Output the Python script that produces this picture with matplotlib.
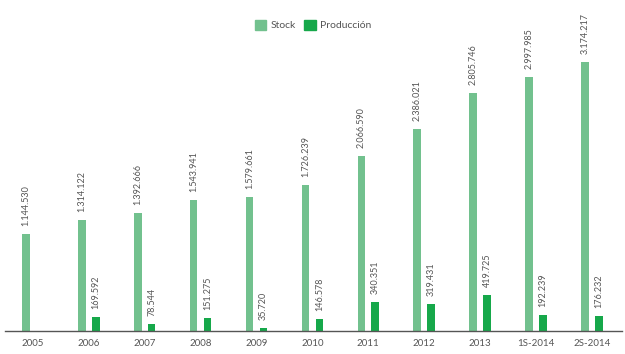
import matplotlib
matplotlib.use("Agg")
import matplotlib.pyplot as plt
from matplotlib.patches import Patch

categories = ["2005", "2006", "2007", "2008", "2009", "2010", "2011", "2012", "2013", "1S-2014", "2S-2014"]
stock = [1144530, 1314122, 1392666, 1543941, 1579661, 1726239, 2066590, 2386021, 2805746, 2997985, 3174217]
produccion = [None, 169592, 78544, 151275, 35720, 146578, 340351, 319431, 419725, 192239, 176232]
stock_labels = ["1.144.530", "1.314.122", "1.392.666", "1.543.941", "1.579.661", "1.726.239",
                "2.066.590", "2.386.021", "2.805.746", "2.997.985", "3.174.217"]
prod_labels = [None, "169.592", "78.544", "151.275", "35.720", "146.578", "340.351",
               "319.431", "419.725", "192.239", "176.232"]

c_stock = "#72c18e"
c_prod = "#16a84a"
txt = "#555555"
font = ["Lato", "DejaVu Sans"]

W, H = 625, 354
fig = plt.figure(figsize=(W / 100, H / 100), dpi=100)
ax = fig.add_axes([5 / W, 23 / H, 617 / W, 305 / H])
ax.set_xlim(-0.5, 10.54)
ax.set_ylim(0, 3.6e6)

bw = 0.135
off = 0.125
x = list(range(len(categories)))
ax.bar([i - off for i in x], stock, width=bw, color=c_stock, zorder=2)
px = [i + off for i, v in zip(x, produccion) if v is not None]
pv = [v for v in produccion if v is not None]
ax.bar(px, pv, width=bw, color=c_prod, zorder=2)

pad = 95000
for i, v, lab in zip(x, stock, stock_labels):
    ax.text(i - off, v + pad, lab, rotation=90, ha="center", va="bottom",
            fontsize=6.5, color=txt, family=font)
for i, v, lab in zip(x, produccion, prod_labels):
    if v is None:
        continue
    ax.text(i + off, v + pad, lab, rotation=90, ha="center", va="bottom",
            fontsize=6.5, color=txt, family=font)

for s in ["top", "right", "left"]:
    ax.spines[s].set_visible(False)
ax.spines["bottom"].set_color("#555555")
ax.spines["bottom"].set_linewidth(1.0)
ax.set_yticks([])
ax.set_xticks(x)
ax.set_xticklabels(categories, fontsize=7, color=txt, family=font)
ax.tick_params(axis="x", length=0, pad=6)

handles = [Patch(color=c_stock, label="Stock"), Patch(color=c_prod, label="Producción")]
fig.legend(handles=handles, loc="center", bbox_to_anchor=(313 / W, 1 - 25 / H), ncol=2,
           frameon=False, prop={"family": font, "size": 7.5}, handlelength=1.1,
           handleheight=1.1, handletextpad=0.4, columnspacing=0.8, labelcolor=txt)

fig.savefig("out.png", dpi=100)
